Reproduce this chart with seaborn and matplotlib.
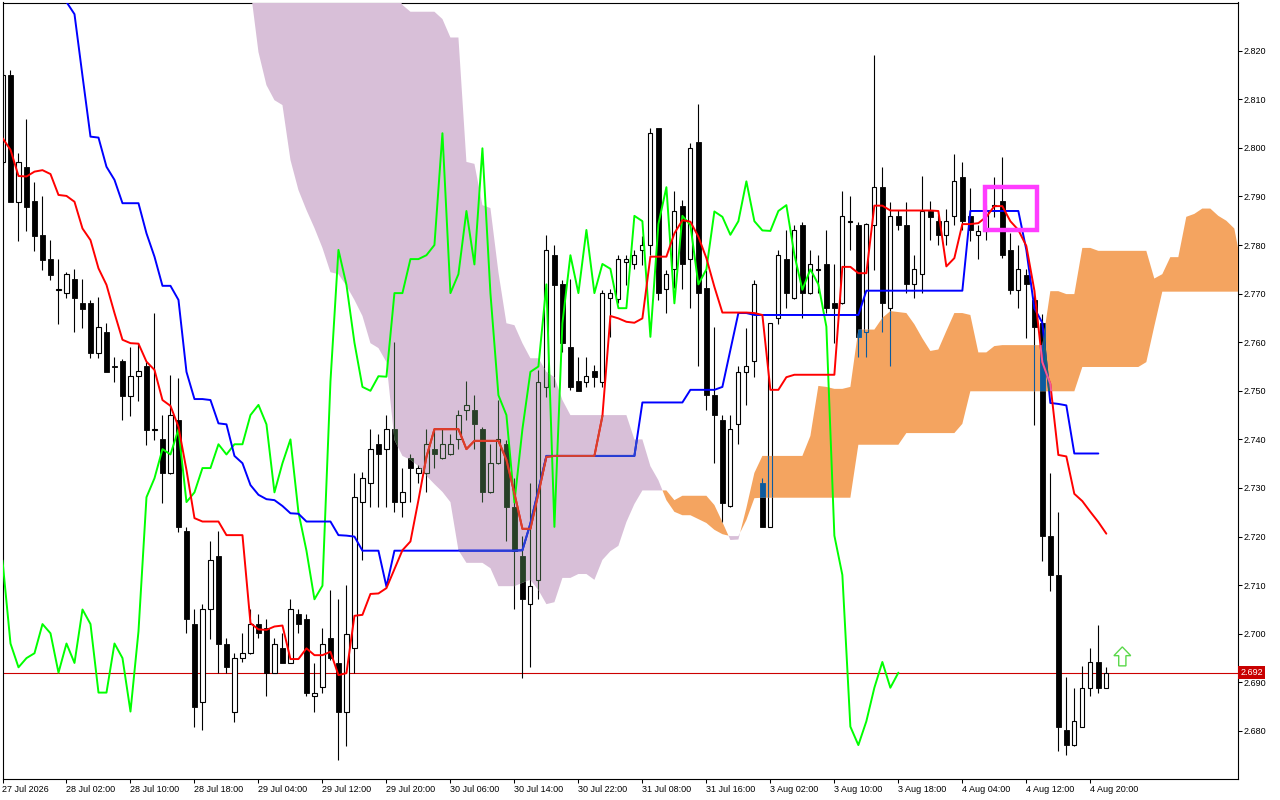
import numpy as np
import pandas as pd
import matplotlib
matplotlib.use("Agg")
import matplotlib.pyplot as plt
import seaborn as sns
from matplotlib.path import Path
from matplotlib.patches import Rectangle, Polygon
from matplotlib.ticker import StrMethodFormatter

# ---------------- data (H1 bars, index 0 = 27 Jul 2026) ----------------
time_labels = ["27 Jul 2026", "28 Jul 02:00", "28 Jul 10:00", "28 Jul 18:00", "29 Jul 04:00",
               "29 Jul 12:00", "29 Jul 20:00", "30 Jul 06:00", "30 Jul 14:00", "30 Jul 22:00",
               "31 Jul 08:00", "31 Jul 16:00", "3 Aug 02:00", "3 Aug 10:00", "3 Aug 18:00",
               "4 Aug 04:00", "4 Aug 12:00", "4 Aug 20:00"]
label_bars = [0, 8, 16, 24, 32, 40, 48, 56, 64, 72, 80, 88, 96, 104, 112, 120, 128, 136]

opens = [2.7971, 2.8150, 2.7889, 2.7961, 2.7891, 2.7821, 2.7771, 2.7708, 2.7701, 2.7730,
         2.7681, 2.7681, 2.7578, 2.7620, 2.7551, 2.7561, 2.7490, 2.7530, 2.7550, 2.7419,
         2.7400, 2.7330, 2.7440, 2.7212, 2.7020, 2.6860, 2.7050, 2.7160, 2.6980, 2.6840,
         2.6950, 2.6960, 2.7020, 2.7011, 2.6920, 2.6970, 2.6940, 2.7040, 2.7030, 2.6871,
         2.6890, 2.6991, 2.6940, 2.6840, 2.6970, 2.7271, 2.7310, 2.7390, 2.7380, 2.7421,
         2.7271, 2.7361, 2.7330, 2.7330, 2.7380, 2.7361, 2.7369, 2.7400, 2.7460, 2.7460,
         2.7421, 2.7291, 2.7351, 2.7390, 2.7260, 2.7160, 2.7061, 2.7111, 2.7508, 2.7779,
         2.7720, 2.7590, 2.7520, 2.7519, 2.7541, 2.7519, 2.7690, 2.7689, 2.7765, 2.7760,
         2.7790, 2.7799, 2.8040, 2.7710, 2.7750, 2.7880, 2.7771, 2.8011, 2.7711, 2.7491,
         2.7440, 2.7262, 2.7432, 2.7539, 2.7561, 2.7310, 2.7220, 2.7649, 2.7771, 2.7690,
         2.7841, 2.7701, 2.7749, 2.7761, 2.7680, 2.7680, 2.7847, 2.7841, 2.7622, 2.7841,
         2.7920, 2.7670, 2.7860, 2.7841, 2.7719, 2.7740, 2.7869, 2.7849, 2.7821, 2.7859,
         2.7939, 2.7860, 2.7821, 2.7829, 2.7880, 2.7890, 2.7790, 2.7708, 2.7739, 2.7686,
         2.7639, 2.7202, 2.7121, 2.6801, 2.6771, 2.6809, 2.6889, 2.6942, 2.6889]
highs = [2.8160, 2.8160, 2.7989, 2.8059, 2.7930, 2.7901, 2.7810, 2.7771, 2.7744, 2.7751,
         2.7730, 2.7687, 2.7692, 2.7639, 2.7570, 2.7565, 2.7590, 2.7599, 2.7560, 2.7660,
         2.7450, 2.7533, 2.7526, 2.7220, 2.7050, 2.7061, 2.7190, 2.7211, 2.6991, 2.6960,
         2.7001, 2.7050, 2.7040, 2.7031, 2.6991, 2.7001, 2.7071, 2.7050, 2.7040, 2.6940,
         2.7011, 2.7090, 2.7071, 2.7100, 2.7330, 2.7333, 2.7421, 2.7411, 2.7450, 2.7601,
         2.7341, 2.7369, 2.7347, 2.7421, 2.7421, 2.7421, 2.7411, 2.7460, 2.7521, 2.7491,
         2.7426, 2.7390, 2.7481, 2.7399, 2.7320, 2.7201, 2.7310, 2.7543, 2.7821, 2.7800,
         2.7728, 2.7730, 2.7569, 2.7569, 2.7553, 2.7707, 2.7710, 2.7779, 2.7779, 2.7790,
         2.7819, 2.8040, 2.8041, 2.7749, 2.7911, 2.7893, 2.8009, 2.8090, 2.7749, 2.7632,
         2.7450, 2.7450, 2.7550, 2.7629, 2.7729, 2.7320, 2.7640, 2.7790, 2.7831, 2.7841,
         2.7847, 2.7790, 2.7779, 2.7831, 2.7761, 2.7911, 2.7901, 2.7848, 2.7845, 2.8191,
         2.7961, 2.7889, 2.7872, 2.7889, 2.7779, 2.7941, 2.7891, 2.7862, 2.7874, 2.7988,
         2.7970, 2.7918, 2.7841, 2.7882, 2.7939, 2.7981, 2.7825, 2.7800, 2.7751, 2.7707,
         2.7658, 2.7330, 2.7251, 2.6912, 2.6889, 2.6934, 2.6970, 2.7018, 2.6932]
lows = [2.7965, 2.7888, 2.7809, 2.7829, 2.7788, 2.7749, 2.7728, 2.7637, 2.7690, 2.7620,
        2.7629, 2.7568, 2.7568, 2.7538, 2.7519, 2.7439, 2.7449, 2.7480, 2.7389, 2.7399,
        2.7270, 2.7329, 2.7210, 2.7001, 2.6809, 2.6801, 2.6990, 2.6920, 2.6920, 2.6819,
        2.6941, 2.6959, 2.6991, 2.6871, 2.6919, 2.6939, 2.6939, 2.7001, 2.6871, 2.6840,
        2.6879, 2.6946, 2.6740, 2.6770, 2.6920, 2.7151, 2.7260, 2.7260, 2.7260, 2.7250,
        2.7240, 2.7271, 2.7310, 2.7291, 2.7341, 2.7360, 2.7368, 2.7380, 2.7440, 2.7380,
        2.7271, 2.7290, 2.7350, 2.7190, 2.7050, 2.6910, 2.6931, 2.7071, 2.7488, 2.7508,
        2.7580, 2.7502, 2.7499, 2.7508, 2.7508, 2.7508, 2.7611, 2.7680, 2.7718, 2.7750,
        2.7759, 2.7779, 2.7687, 2.7660, 2.7711, 2.7710, 2.7670, 2.7550, 2.7460, 2.7351,
        2.7231, 2.7261, 2.7391, 2.7471, 2.7529, 2.7219, 2.7219, 2.7637, 2.7670, 2.7689,
        2.7649, 2.7700, 2.7701, 2.7660, 2.7599, 2.7679, 2.7790, 2.7570, 2.7570, 2.7749,
        2.7620, 2.7550, 2.7831, 2.7701, 2.7690, 2.7701, 2.7810, 2.7800, 2.7800, 2.7841,
        2.7831, 2.7808, 2.7772, 2.7810, 2.7858, 2.7773, 2.7699, 2.7670, 2.7609, 2.7430,
        2.7149, 2.7088, 2.6759, 2.6750, 2.6770, 2.6808, 2.6872, 2.6878, 2.6888]
closes = [2.8150, 2.7889, 2.7970, 2.7879, 2.7819, 2.7769, 2.7738, 2.7710, 2.7740, 2.7690,
          2.7669, 2.7578, 2.7631, 2.7539, 2.7549, 2.7490, 2.7530, 2.7540, 2.7420, 2.7421,
          2.7330, 2.7450, 2.7220, 2.7030, 2.6850, 2.7050, 2.7151, 2.6980, 2.6931, 2.6950,
          2.6960, 2.7020, 2.7001, 2.6920, 2.6980, 2.6940, 2.7050, 2.7020, 2.6879, 2.6879,
          2.6980, 2.6950, 2.6840, 2.7000, 2.7281, 2.7320, 2.7380, 2.7369, 2.7421, 2.7271,
          2.7291, 2.7341, 2.7341, 2.7390, 2.7369, 2.7390, 2.7390, 2.7450, 2.7471, 2.7431,
          2.7291, 2.7351, 2.7400, 2.7260, 2.7171, 2.7071, 2.7099, 2.7519, 2.7790, 2.7718,
          2.7599, 2.7508, 2.7500, 2.7530, 2.7529, 2.7701, 2.7701, 2.7771, 2.7771, 2.7779,
          2.7800, 2.8030, 2.7701, 2.7740, 2.7870, 2.7760, 2.7999, 2.7701, 2.7491, 2.7450,
          2.7270, 2.7421, 2.7539, 2.7550, 2.7719, 2.7220, 2.7639, 2.7779, 2.7701, 2.7831,
          2.7701, 2.7761, 2.7751, 2.7670, 2.7670, 2.7860, 2.7849, 2.7611, 2.7843, 2.7919,
          2.7680, 2.7860, 2.7841, 2.7719, 2.7750, 2.7869, 2.7858, 2.7821, 2.7849, 2.7931,
          2.7849, 2.7830, 2.7829, 2.7870, 2.7882, 2.7780, 2.7708, 2.7750, 2.7719, 2.7632,
          2.7202, 2.7121, 2.6809, 2.6771, 2.6820, 2.6889, 2.6942, 2.6889, 2.6920]

# Ichimoku: Tenkan-sen (red), Kijun-sen (blue) per bar
tenkan = [2.8020, 2.7996, 2.7942, 2.7941, 2.7951, 2.7954, 2.7946, 2.7903, 2.7901, 2.7889,
          2.7834, 2.7810, 2.7752, 2.7718, 2.7660, 2.7605, 2.7598, 2.7597, 2.7560, 2.7543,
          2.7481, 2.7469, 2.7426, 2.7337, 2.7238, 2.7231, 2.7231, 2.7231, 2.7203, 2.7203,
          2.7203, 2.7022, 2.7009, 2.7008, 2.7015, 2.7017, 2.6948, 2.6948, 2.6970, 2.6956,
          2.6956, 2.6963, 2.6915, 2.6919, 2.7037, 2.7039, 2.7082, 2.7083, 2.7094, 2.7133,
          2.7172, 2.7190, 2.7275, 2.7364, 2.7421, 2.7421, 2.7421, 2.7421, 2.7380, 2.7397,
          2.7397, 2.7397, 2.7397, 2.7358, 2.7289, 2.7216, 2.7216, 2.7289, 2.7364, 2.7366,
          2.7366, 2.7366, 2.7366, 2.7366, 2.7366, 2.7448, 2.7654, 2.7649, 2.7642, 2.7640,
          2.7649, 2.7776, 2.7776, 2.7776, 2.7824, 2.7851, 2.7848, 2.7817, 2.7773, 2.7714,
          2.7661, 2.7661, 2.7661, 2.7661, 2.7660, 2.7656, 2.7502, 2.7502, 2.7528, 2.7533,
          2.7533, 2.7533, 2.7533, 2.7533, 2.7533, 2.7755, 2.7755, 2.7742, 2.7742, 2.7881,
          2.7881, 2.7871, 2.7871, 2.7871, 2.7871, 2.7871, 2.7871, 2.7870, 2.7756, 2.7773,
          2.7843, 2.7843, 2.7845, 2.7858, 2.7880, 2.7880, 2.7849, 2.7831, 2.7798, 2.7707,
          2.7559, 2.7514, 2.7368, 2.7365, 2.7288, 2.7273, 2.7251, 2.7230, 2.7206]
kijun_start = 6
kijun = [2.8448, 2.8356, 2.8300, 2.8275,
         2.8148, 2.8023, 2.8021, 2.7961, 2.7934, 2.7886, 2.7886, 2.7886, 2.7824, 2.7776,
         2.7716, 2.7716, 2.7687, 2.7539, 2.7483, 2.7483, 2.7481, 2.7433, 2.7431, 2.7366,
         2.7351, 2.7306, 2.7286, 2.7277, 2.7275, 2.7263, 2.7248, 2.7247, 2.7231, 2.7231,
         2.7231, 2.7231, 2.7203, 2.7202, 2.7200, 2.7171, 2.7171, 2.7171, 2.7097, 2.7171,
         2.7171, 2.7171, 2.7171, 2.7171, 2.7171, 2.7171, 2.7171, 2.7171, 2.7171, 2.7171,
         2.7171, 2.7171, 2.7171, 2.7171, 2.7171, 2.7172, 2.7227, 2.7296, 2.7366, 2.7366,
         2.7366, 2.7366, 2.7366, 2.7366, 2.7366, 2.7366, 2.7366, 2.7366, 2.7366, 2.7366,
         2.7476, 2.7476, 2.7476, 2.7476, 2.7476, 2.7476, 2.7502, 2.7502, 2.7502, 2.7502,
         2.7508, 2.7584, 2.7660, 2.7660, 2.7656, 2.7656, 2.7656, 2.7656, 2.7656, 2.7656,
         2.7656, 2.7656, 2.7656, 2.7656, 2.7656, 2.7656, 2.7656, 2.7656, 2.7706, 2.7706,
         2.7706, 2.7706, 2.7706, 2.7706, 2.7706, 2.7706, 2.7706, 2.7706, 2.7706, 2.7706,
         2.7706, 2.7870, 2.7870, 2.7870, 2.7870, 2.7870, 2.7870, 2.7870, 2.7790, 2.7670,
         2.7640, 2.7475, 2.7473, 2.7470, 2.7371, 2.7371, 2.7371, 2.7371]
# Chikou span (green), plotted from bar 0
chikou = [2.7151, 2.6980, 2.6931, 2.6950, 2.6960, 2.7020, 2.7001, 2.6920, 2.6980, 2.6940,
          2.7050, 2.7020, 2.6879, 2.6879, 2.6980, 2.6950, 2.6840, 2.7005, 2.7281, 2.7320,
          2.7380, 2.7369, 2.7421, 2.7271, 2.7291, 2.7341, 2.7341, 2.7390, 2.7369, 2.7390,
          2.7390, 2.7450, 2.7471, 2.7431, 2.7291, 2.7351, 2.7400, 2.7250, 2.7171, 2.7071,
          2.7099, 2.7519, 2.7790, 2.7718, 2.7599, 2.7508, 2.7500, 2.7530, 2.7529, 2.7701,
          2.7701, 2.7771, 2.7771, 2.7779, 2.7800, 2.8030, 2.7701, 2.7740, 2.7870, 2.7760,
          2.7999, 2.7701, 2.7491, 2.7450, 2.7270, 2.7421, 2.7539, 2.7550, 2.7719, 2.7220,
          2.7639, 2.7779, 2.7701, 2.7831, 2.7701, 2.7761, 2.7751, 2.7670, 2.7670, 2.7860,
          2.7849, 2.7611, 2.7843, 2.7919, 2.7680, 2.7860, 2.7841, 2.7719, 2.7750, 2.7869,
          2.7858, 2.7821, 2.7849, 2.7931, 2.7849, 2.7830, 2.7829, 2.7870, 2.7882, 2.7780,
          2.7708, 2.7750, 2.7719, 2.7632, 2.7202, 2.7121, 2.6809, 2.6771, 2.6820, 2.6889,
          2.6942, 2.6889, 2.6920]
# Senkou spans A and B, from bar 30 (extends 26 bars past the last candle)
cloud_start = 30
span_a = [2.8428, 2.8327, 2.8197, 2.8129, 2.8098, 2.8088, 2.7975, 2.7913, 2.7872, 2.7835,
          2.7794, 2.7744, 2.7740, 2.7716, 2.7687, 2.7654, 2.7598, 2.7588, 2.7559, 2.7399,
          2.7366, 2.7358, 2.7345, 2.7325, 2.7308, 2.7292, 2.7271, 2.7172, 2.7146, 2.7146,
          2.7146, 2.7135, 2.7098, 2.7098, 2.7098, 2.7105, 2.7111, 2.7090, 2.7061, 2.7065,
          2.7115, 2.7115, 2.7123, 2.7123, 2.7111, 2.7152, 2.7170, 2.7181, 2.7230, 2.7267,
          2.7295, 2.7295, 2.7295, 2.7295, 2.7275, 2.7284, 2.7284, 2.7284, 2.7284, 2.7265,
          2.7230, 2.7193, 2.7194, 2.7259, 2.7331, 2.7366, 2.7366, 2.7366, 2.7366, 2.7366,
          2.7366, 2.7407, 2.7510, 2.7508, 2.7504, 2.7504, 2.7508, 2.7626, 2.7626, 2.7626,
          2.7650, 2.7664, 2.7662, 2.7660, 2.7637, 2.7608, 2.7582, 2.7585, 2.7623, 2.7660,
          2.7660, 2.7656, 2.7579, 2.7579, 2.7592, 2.7594, 2.7594, 2.7594, 2.7594, 2.7594,
          2.7594, 2.7705, 2.7705, 2.7699, 2.7699, 2.7794, 2.7794, 2.7788, 2.7788, 2.7788,
          2.7788, 2.7788, 2.7788, 2.7788, 2.7731, 2.7740, 2.7775, 2.7775, 2.7858, 2.7864,
          2.7875, 2.7875, 2.7860, 2.7850, 2.7834, 2.7749]
span_b = [2.8428, 2.8428, 2.8428, 2.8428, 2.8428, 2.8428, 2.8428, 2.8428, 2.8428, 2.8428,
          2.8428, 2.8428, 2.8428, 2.8428, 2.8428, 2.8428, 2.8428, 2.8428, 2.8428, 2.8325,
          2.8294, 2.8280, 2.8280, 2.8280, 2.8280, 2.8265, 2.8227, 2.8227, 2.7971, 2.7967,
          2.7882, 2.7876, 2.7744, 2.7639, 2.7635, 2.7598, 2.7567, 2.7567, 2.7539, 2.7528,
          2.7481, 2.7450, 2.7450, 2.7450, 2.7450, 2.7450, 2.7450, 2.7450, 2.7450, 2.7400,
          2.7400, 2.7345, 2.7316, 2.7275, 2.7251, 2.7244, 2.7244, 2.7236, 2.7228, 2.7214,
          2.7205, 2.7201, 2.7201, 2.7234, 2.7279, 2.7280, 2.7280, 2.7280, 2.7280, 2.7280,
          2.7280, 2.7280, 2.7280, 2.7280, 2.7280, 2.7280, 2.7280, 2.7389, 2.7389, 2.7389,
          2.7389, 2.7389, 2.7389, 2.7413, 2.7413, 2.7413, 2.7413, 2.7413, 2.7413, 2.7413,
          2.7432, 2.7499, 2.7499, 2.7499, 2.7499, 2.7499, 2.7499, 2.7499, 2.7499, 2.7499,
          2.7499, 2.7499, 2.7499, 2.7499, 2.7499, 2.7549, 2.7549, 2.7549, 2.7549, 2.7549,
          2.7549, 2.7549, 2.7549, 2.7559, 2.7633, 2.7704, 2.7704, 2.7704, 2.7704, 2.7704,
          2.7704, 2.7704, 2.7704, 2.7704, 2.7704, 2.7704]

price_ticks = [2.680, 2.690, 2.700, 2.710, 2.720, 2.730, 2.740, 2.750, 2.760, 2.770,
               2.780, 2.790, 2.800, 2.810, 2.820]
last_price = 2.692
# highlight box (bars, prices) and up-arrow marker (bar, tip/base/bottom prices)
box_bars = (122.8, 129.3)
box_prices = (2.7830, 2.7920)
arrow_bar = 140.0
arrow_prices = (2.6973, 2.6955, 2.6934)

# ---------------- drawing ----------------
sns.set_theme(style="white")
plt.rcParams["font.family"] = ["Liberation Sans", "DejaVu Sans"]

fig = plt.figure(figsize=(12.8, 8), dpi=100)
ax = fig.add_axes([2.5 / 1280, 21 / 800, 1235 / 1280, 776.5 / 800])
ax.set_facecolor("white")

bars = np.arange(len(opens))
o, h, l, c = (np.asarray(v, dtype=float) for v in (opens, highs, lows, closes))
bull = c >= o
lo = np.minimum(o, c)
hi = np.maximum(o, c)
ht = np.maximum(hi - lo, 1e-6)


def draw_candles(ink, face, z):
    arts = [ax.vlines(bars, l, lo, colors=ink, linewidth=0.8, zorder=z),
            ax.vlines(bars, hi, h, colors=ink, linewidth=0.8, zorder=z)]
    bb = ax.bar(bars[~bull], ht[~bull], bottom=lo[~bull], width=0.6, color=ink,
                edgecolor=ink, linewidth=0.6, zorder=z)
    wb = ax.bar(bars[bull], ht[bull], bottom=lo[bull], width=0.52, facecolor=face,
                edgecolor=ink, linewidth=0.8, zorder=z)
    arts.extend(bb.patches)
    arts.extend(wb.patches)
    return arts


ax.axhline(last_price, color="#cc0000", linewidth=0.8, zorder=1.5)
draw_candles("black", "white", 2)

cx = np.arange(cloud_start, cloud_start + len(span_a))
A = np.asarray(span_a)
B = np.asarray(span_b)
purple = ax.fill_between(cx, A, B, where=B >= A, interpolate=True, facecolor="#d8bfd8",
                         edgecolor="none", linewidth=0, zorder=3)
orange = ax.fill_between(cx, A, B, where=A > B, interpolate=True, facecolor="#f4a460",
                         edgecolor="none", linewidth=0, zorder=3)
p_path = Path.make_compound_path(*purple.get_paths())
o_path = Path.make_compound_path(*orange.get_paths())

for art in draw_candles("#274027", "none", 3.5):
    art.set_clip_path(p_path, ax.transData)
for art in draw_candles("#0b5b9f", "none", 3.5):
    art.set_clip_path(o_path, ax.transData)

df_t = pd.DataFrame({"bar": bars, "tenkan": tenkan})
df_k = pd.DataFrame({"bar": np.arange(kijun_start, kijun_start + len(kijun)), "kijun": kijun})
df_c = pd.DataFrame({"bar": np.arange(len(chikou)), "chikou": chikou})

lw = 1.4
sns.lineplot(data=df_c, x="bar", y="chikou", color="#00ff00", linewidth=lw, estimator=None, ax=ax, zorder=5)
sns.lineplot(data=df_k, x="bar", y="kijun", color="#0000ff", linewidth=lw, estimator=None, ax=ax, zorder=5)
sns.lineplot(data=df_t, x="bar", y="tenkan", color="#ff0000", linewidth=lw, estimator=None, ax=ax, zorder=5)
# tinted segments where the lines pass over the cloud
for df, col, tint, path in [(df_k, "kijun", "#1e6870", o_path), (df_t, "tenkan", "#f05c9c", o_path),
                            (df_k, "kijun", "#2a40d0", p_path), (df_t, "tenkan", "#d8402c", p_path)]:
    sns.lineplot(data=df, x="bar", y=col, color=tint, linewidth=lw, estimator=None, ax=ax, zorder=5.5)
    ax.lines[-1].set_clip_path(path, ax.transData)

ax.add_patch(Rectangle((box_bars[0], box_prices[0]), box_bars[1] - box_bars[0],
                       box_prices[1] - box_prices[0], fill=False, edgecolor="#ff3cff",
                       linewidth=3.2, zorder=8))
tip, base, bottom = arrow_prices
hw, sw = 1.05, 0.45
arrow_pts = [(arrow_bar, tip), (arrow_bar + hw, base), (arrow_bar + sw, base), (arrow_bar + sw, bottom),
             (arrow_bar - sw, bottom), (arrow_bar - sw, base), (arrow_bar - hw, base)]
ax.add_patch(Polygon(arrow_pts, closed=True, facecolor="white", edgecolor="#5ad84a",
                     linewidth=1.0, zorder=8))

ax.set_xlim(0.02, 154.4)
ax.set_ylim(2.67012, 2.8299)
ax.set_xlabel("")
ax.set_ylabel("")
ax.yaxis.tick_right()
ax.set_yticks(price_ticks)
ax.yaxis.set_major_formatter(StrMethodFormatter("{x:.3f}"))
ax.set_xticks(label_bars)
ax.set_xticklabels(time_labels, ha="left")
ax.tick_params(axis="both", which="major", direction="out", length=3, width=0.75, color="black",
               labelsize=6.5, labelcolor="black", pad=1.5,
               bottom=True, top=False, left=False, right=True,
               labelbottom=True, labelleft=False, labelright=True)
for s in ax.spines.values():
    s.set_visible(True)
    s.set_color("black")
    s.set_linewidth(0.8)
ax.grid(False)

ax.annotate(f"{last_price:.3f}", xy=(1.0, last_price), xycoords=("axes fraction", "data"),
            xytext=(3, 0), textcoords="offset pixels", ha="left", va="center",
            color="white", fontsize=6.5,
            bbox=dict(boxstyle="square,pad=0.25", fc="#c80000", ec="none"),
            annotation_clip=False, zorder=10)

fig.savefig("out.png", dpi=100, facecolor="white")
